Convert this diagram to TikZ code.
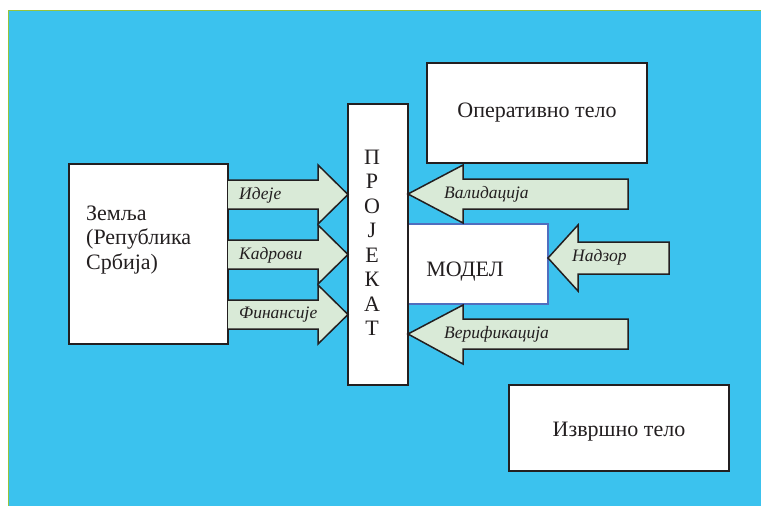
\documentclass[tikz,border=0pt]{standalone}
\usepackage{fontspec}
\setmainfont{Liberation Serif}
\definecolor{bgcyan}{RGB}{59,194,238}
\definecolor{edgegreen}{RGB}{150,196,60}
\definecolor{arrfill}{RGB}{217,234,215}
\definecolor{ink}{RGB}{35,31,32}
\definecolor{modblue}{RGB}{80,110,190}
\tikzset{
  box/.style={draw=ink, fill=white, line width=1.6pt, inner sep=0pt, outer sep=0pt},
  blk/.style={draw=ink, fill=arrfill, line width=1.5pt, line join=miter},
  maintext/.style={text=ink, font=\fontsize{22}{24.5}\selectfont, inner sep=0pt},
  lbl/.style={text=ink, font=\fontsize{17.5}{20}\selectfont\itshape, inner sep=0pt, anchor=west}
}
\begin{document}
\begin{tikzpicture}[x=1pt,y=-1pt]
\useasboundingbox (0,0) rectangle (761,506);
\fill[white] (0,0) rectangle (761,506);
\fill[bgcyan] (8,10) rectangle (761,506);
\draw[edgegreen, line width=1.6pt] (8.4,506) -- (8.4,10.4) -- (761,10.4);

% boxes
\node[box, minimum width=159pt, minimum height=180pt] (zemlja) at (148.5,254) {};
\node[box, draw=modblue, minimum width=140pt, minimum height=80pt] (model) at (478,264) {};
\node[box, minimum width=60pt, minimum height=281pt] (projekat) at (378,244.5) {};
\node[box, minimum width=220pt, minimum height=100pt] (oper) at (537,113) {};
\node[box, minimum width=220pt, minimum height=86pt] (izvrsno) at (619,428) {};

% box texts
\node[maintext, align=left, anchor=west] (zemljat) at (86,240) {Земља\\(Република\\Србија)};
\node[maintext, align=center] (projt) at (372,243) {\fontsize{22}{25.7}\selectfont П\\Р\\О\\Ј\\Е\\К\\А\\Т};
\node[maintext] (opert) at (537,113) {Оперативно тело};
\node[maintext] (modelt) at (465,272) {МОДЕЛ};
\node[maintext] (izvrt) at (619,432) {Извршно тело};

% right-pointing block arrows
\foreach \c/\n in {194.5/a1,254.5/a2,314.5/a3}{
  \draw[blk] (228,\c-14.5) -- (318,\c-14.5) -- (318,\c-29.5) -- (348,\c) coordinate (\n)
    -- (318,\c+29.5) -- (318,\c+14.5) -- (228,\c+14.5);
}
\node[lbl] (ideje) at (239,195) {Идеје};
\node[lbl] (kadrovi) at (239,255) {Кадрови};
\node[lbl] (finansije) at (239,315) {Финансије};

% left-pointing block arrows
\draw[blk] (408,194) coordinate (b1) -- (463,165) -- (463,179) -- (628,179) -- (628,209) -- (463,209) -- (463,223) -- cycle;
\draw[blk] (548,258) coordinate (b2) -- (578,225) -- (578,242) -- (669,242) -- (669,274) -- (578,274) -- (578,291) -- cycle;
\draw[blk] (408,334) coordinate (b3) -- (463,305) -- (463,319) -- (628,319) -- (628,349) -- (463,349) -- (463,364) -- cycle;
\node[lbl] (valid) at (444,194) {Валидација};
\node[lbl] (nadzor) at (572,257) {Надзор};
\node[lbl] (verif) at (444,334) {Верификација};
\end{tikzpicture}
\end{document}
